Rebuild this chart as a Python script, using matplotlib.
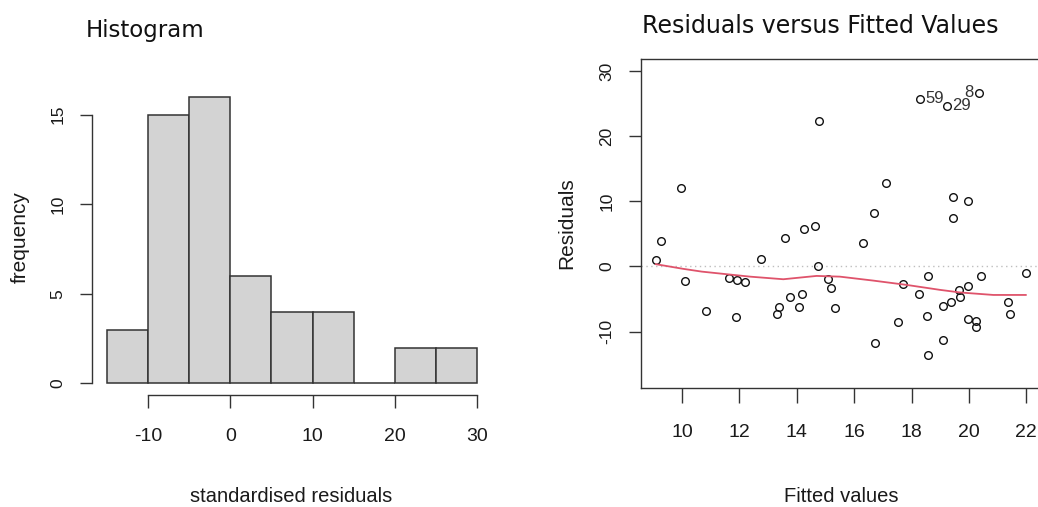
#! /usr/bin/env python3
import matplotlib
matplotlib.use("Agg")
import matplotlib.pyplot as plt


# Histogram of the residuals (bin edges and counts).
bin_edges = [-15, -10, -5, 0, 5, 10, 15, 20, 25, 30]
counts = [3, 15, 16, 6, 4, 4, 0, 2, 2]

# Residuals versus fitted values.
fitted = [
    9.98, 9.26, 9.09, 10.09, 10.84, 11.63, 11.93, 12.18, 11.87, 12.75,
    13.60, 14.25, 14.64, 14.73, 13.30, 13.38, 13.75, 14.07, 14.19, 15.08,
    15.18, 15.34, 17.12, 16.68, 16.30, 19.43, 19.97, 19.43, 17.69, 18.57,
    18.26, 17.54, 16.72, 18.54, 19.10, 19.36, 19.65, 19.69, 19.97, 20.43,
    19.95, 20.23, 20.23, 19.10, 18.57, 21.35, 21.43, 21.98, 14.76, 18.30,
    19.23, 20.34
]
residuals = [
    12.1, 3.87, 0.95, -2.23, -6.84, -1.77, -2.03, -2.33, -7.81, 1.2,
    4.33, 5.76, 6.27, 0.12, -7.35, -6.22, -4.63, -6.17, -4.17, -1.97,
    -3.25, -6.37, 12.78, 8.22, 3.61, 10.63, 10.11, 7.45, -2.74, -1.51,
    -4.17, -8.57, -11.7, -7.55, -6.12, -5.4, -3.56, -4.63, -3.0, -1.51,
    -8.06, -8.37, -9.24, -11.24, -13.6, -5.4, -7.3, -1.0, 22.3, 25.7,
    24.65, 26.65
]

# Smoothed trend (red line).
smooth_x = [9.09, 10.05, 10.69, 11.56, 12.37, 13.53, 14.69, 15.50,
            16.67, 17.83, 18.99, 19.69, 20.85, 21.98]
smooth_y = [0.34, -0.38, -0.80, -1.20, -1.57, -1.97, -1.46, -1.57,
            -2.18, -2.84, -3.60, -4.00, -4.38, -4.38]

# Labelled outliers: (index in the arrays above, label, side).
outliers = [(49, "59", "right"), (50, "29", "right"), (51, "8", "left")]

W, H = 1038, 507
SANS = ["Liberation Sans", "DejaVu Sans"]
DARK = "#333333"
INK = "#1a1a1a"

plt.rcParams["axes.unicode_minus"] = False


def px_axes(fig, left, top, right, bottom):
    """Add an axes given its box in pixels."""
    return fig.add_axes([left / W, 1 - bottom / H,
                         (right - left) / W, (bottom - top) / H])


def style_ticks(ax):
    ax.tick_params(direction="out", length=9, width=1.0, color=DARK)
    ax.tick_params(axis="x", pad=15)
    ax.tick_params(axis="y", pad=10)
    for lab in ax.get_xticklabels():
        lab.set_family(SANS)
        lab.set_fontsize(14)
        lab.set_color(INK)
    for lab in ax.get_yticklabels():
        lab.set_family(SANS)
        lab.set_fontsize(12.5)
        lab.set_rotation(90)
        lab.set_va("center")
        lab.set_color(INK)


def labels(ax, xlabel, ylabel, x_at, y_at):
    """Axis labels placed at given fractions of the axes box."""
    ax.set_xlabel(xlabel, family=SANS, fontsize=14.5, color=INK)
    ax.xaxis.set_label_coords(0.5, x_at)
    ax.xaxis.label.set_va("center")
    ax.set_ylabel(ylabel, family=SANS, fontsize=15, color=INK)
    ax.yaxis.set_label_coords(y_at, 0.5)
    ax.yaxis.label.set_va("center")


def plot():
    fig = plt.figure(figsize=(W / 100, H / 100), dpi=100)

    # Left panel: histogram.
    ax = px_axes(fig, 92, 80, 490, 395)
    ax.hist(bin_edges[:-1], bins=bin_edges, weights=counts,
            color="#d3d3d3", edgecolor=DARK, linewidth=1.1)
    ax.set_xlim(-16.86, 31.62)
    ax.set_ylim(-0.65, 16.94)
    ax.set_xticks([-10, 0, 10, 20, 30])
    ax.set_yticks([0, 5, 10, 15])
    for side in ("top", "right"):
        ax.spines[side].set_visible(False)
    ax.spines["left"].set_bounds(0, 15)
    ax.spines["bottom"].set_bounds(-10, 30)
    for side in ("left", "bottom"):
        ax.spines[side].set_color(DARK)
        ax.spines[side].set_linewidth(1.0)
    style_ticks(ax)
    labels(ax, "standardised residuals", "frequency",
           -(497 - 395) / (395 - 80), -(92 - 20) / (490 - 92))

    # Right panel: residuals versus fitted values.
    bx = px_axes(fig, 641, 59, 1041, 388)
    bx.axhline(0, color="#bebebe", linestyle=(0, (1, 2.5)), linewidth=1.0)
    bx.plot(fitted, residuals, "o", ms=5.5, mfc="none", mec="#111111",
            mew=1.0, linestyle="none")
    bx.plot(smooth_x, smooth_y, color="#df536b", linewidth=1.3)
    for i, text, side in outliers:
        dx = 4 if side == "right" else -4
        bx.annotate(text, (fitted[i], residuals[i]),
                    xytext=(dx, 0), textcoords="offset points",
                    ha="left" if side == "right" else "right", va="center",
                    family=SANS, fontsize=12, color=DARK)
    bx.set_xlim(8.571, 22.51)
    bx.set_ylim(-18.66, 31.83)
    bx.set_xticks(range(10, 23, 2))
    bx.set_yticks([-10, 0, 10, 20, 30])
    for side in bx.spines.values():
        side.set_color(DARK)
        side.set_linewidth(1.0)
    style_ticks(bx)
    bx.tick_params(axis="x", length=11)
    labels(bx, "Fitted values", "Residuals",
           -(497 - 388) / (388 - 59), -(641 - 567) / 400)

    fig.text(86 / W, 1 - 37 / H, "Histogram", fontsize=16.5,
             family="DejaVu Sans", color="#111111", va="baseline")
    fig.text(642 / W, 1 - 33 / H, "Residuals versus Fitted Values",
             fontsize=17, family="DejaVu Sans", color="#111111",
             va="baseline")

    fig.savefig("out.png", dpi=100)


if __name__ == "__main__":
    plot()
